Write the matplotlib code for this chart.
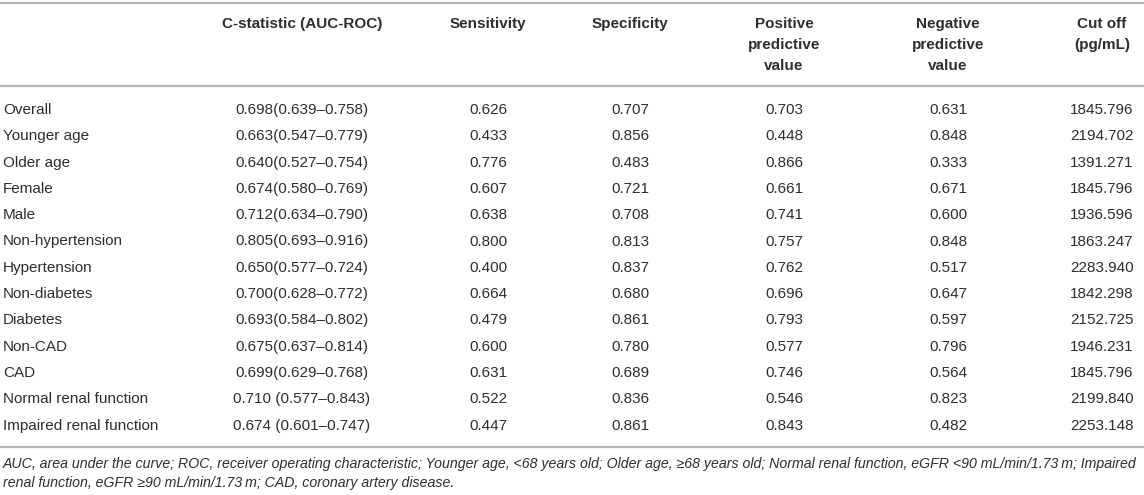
import matplotlib.pyplot as plt

groups = ["Overall", "Younger age", "Older age", "Female", "Male",
          "Non-hypertension", "Hypertension", "Non-diabetes", "Diabetes",
          "Non-CAD", "CAD", "Normal renal function", "Impaired renal function"]
auc = [0.698, 0.663, 0.640, 0.674, 0.712, 0.805, 0.650, 0.700, 0.693, 0.675, 0.699, 0.710, 0.674]
auc_lo = [0.639, 0.547, 0.527, 0.580, 0.634, 0.693, 0.577, 0.628, 0.584, 0.637, 0.629, 0.577, 0.601]
auc_hi = [0.758, 0.779, 0.754, 0.769, 0.790, 0.916, 0.724, 0.772, 0.802, 0.814, 0.768, 0.843, 0.747]
sensitivity = [0.626, 0.433, 0.776, 0.607, 0.638, 0.800, 0.400, 0.664, 0.479, 0.600, 0.631, 0.522, 0.447]
specificity = [0.707, 0.856, 0.483, 0.721, 0.708, 0.813, 0.837, 0.680, 0.861, 0.780, 0.689, 0.836, 0.861]
ppv = [0.703, 0.448, 0.866, 0.661, 0.741, 0.757, 0.762, 0.696, 0.793, 0.577, 0.746, 0.546, 0.843]
npv = [0.631, 0.848, 0.333, 0.671, 0.600, 0.848, 0.517, 0.647, 0.597, 0.796, 0.564, 0.823, 0.482]
cutoff = [1845.796, 2194.702, 1391.271, 1845.796, 1936.596, 1863.247, 2283.940,
          1842.298, 2152.725, 1946.231, 1845.796, 2199.840, 2253.148]
# the last two rows carry a space before the bracket in the source
ci_space = [False] * 11 + [True, True]

headers = [["C-statistic (AUC-ROC)"], ["Sensitivity"], ["Specificity"],
           ["Positive", "predictive", "value"], ["Negative", "predictive", "value"],
           ["Cut off", "(pg/mL)"]]

footnote = [
    "AUC, area under the curve; ROC, receiver operating characteristic; Younger age, <68 years old; "
    "Older age, \u226568 years old; Normal renal function, eGFR <90 mL/min/1.73\u2009m; Impaired",
    "renal function, eGFR \u226590 mL/min/1.73\u2009m; CAD, coronary artery disease.",
]

W, H = 1144, 495
fig = plt.figure(figsize=(W / 100, H / 100), dpi=100)
ax = fig.add_axes([0, 0, 1, 1])
ax.set_xlim(0, W)
ax.set_ylim(H, 0)
ax.axis('off')

txt = '#2e2e2e'
rule = '#b4b4b4'
fnt = 'Liberation Sans'
fs = 11

# column centres in pixels
col_x = [302, 488, 630, 784, 948, 1102]
row_y0, row_dy = 110, 26.3

# rules
for y in (3, 86, 447):
    ax.plot([0, W], [y, y], color=rule, lw=1.6, solid_capstyle='butt')

# headers, one text per line
for x, lines in zip(col_x, headers):
    for k, line in enumerate(lines):
        ax.text(x, 24 + 21 * k, line, ha='center', va='center', fontsize=fs,
                fontweight='bold', color=txt, family=fnt)

for i, g in enumerate(groups):
    y = row_y0 + i * row_dy
    sep = " " if ci_space[i] else ""
    cells = [f"{auc[i]:.3f}{sep}({auc_lo[i]:.3f}\u2013{auc_hi[i]:.3f})",
             f"{sensitivity[i]:.3f}", f"{specificity[i]:.3f}",
             f"{ppv[i]:.3f}", f"{npv[i]:.3f}", f"{cutoff[i]:.3f}"]
    ax.text(3, y, g, ha='left', va='center', fontsize=fs, color=txt, family=fnt)
    for x, c in zip(col_x, cells):
        ax.text(x, y, c, ha='center', va='center', fontsize=fs, color=txt, family=fnt)

for k, line in enumerate(footnote):
    ax.text(3, 464 + 19 * k, line, ha='left', va='center', fontsize=10.2,
            style='italic', color=txt, family=fnt)

fig.savefig('out.png', dpi=100)
